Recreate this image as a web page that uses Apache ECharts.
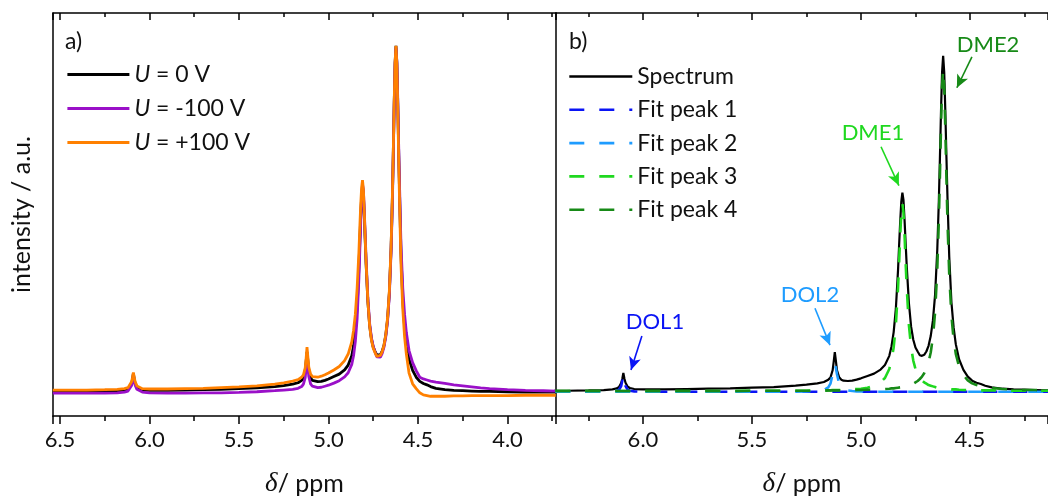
<!DOCTYPE html>
<html>
<head>
<meta charset="utf-8">
<script src="https://cdn.jsdelivr.net/npm/echarts@6/dist/echarts.min.js"></script>
<style>
  html, body { margin: 0; padding: 0; background: #fff; }
  #chart { width: 1048px; height: 498px; }
</style>
</head>
<body>
<div id="chart"></div>
<script>
// Chemical shift grid (ppm), shared by every trace below
const shifts = [
  6.54, 6.45, 6.35, 6.25, 6.18, 6.14, 6.12, 6.11, 6.10, 6.095,
  6.09, 6.085, 6.08, 6.07, 6.06, 6.04, 6.0, 5.9, 5.8, 5.7,
  5.6, 5.5, 5.4, 5.3, 5.25, 5.2, 5.17, 5.15, 5.14, 5.13,
  5.125, 5.12, 5.115, 5.11, 5.10, 5.09, 5.08, 5.06, 5.04, 5.02,
  5.0, 4.97, 4.94, 4.91, 4.89, 4.87, 4.86, 4.85, 4.84, 4.83,
  4.825, 4.82, 4.815, 4.81, 4.805, 4.80, 4.795, 4.79, 4.78, 4.77,
  4.76, 4.75, 4.74, 4.73, 4.72, 4.71, 4.70, 4.69, 4.68, 4.67,
  4.66, 4.65, 4.643, 4.638, 4.633, 4.628, 4.623, 4.618, 4.613, 4.608,
  4.603, 4.595, 4.585, 4.575, 4.565, 4.55, 4.53, 4.51, 4.49, 4.47,
  4.45, 4.43, 4.40, 4.35, 4.30, 4.25, 4.20, 4.15, 4.10, 4.0,
  3.9, 3.8, 3.73
];

// Spectrum at U = 0 V (also the fitted spectrum in panel b)
const u0V = [
  0.000, 0.000, 0.001, 0.002, 0.003, 0.005, 0.008, 0.012, 0.024, 0.036,
  0.054, 0.037, 0.025, 0.013, 0.009, 0.006, 0.005, 0.005, 0.006, 0.007,
  0.008, 0.010, 0.012, 0.016, 0.019, 0.023, 0.027, 0.034, 0.040, 0.062,
  0.088, 0.116, 0.090, 0.062, 0.041, 0.034, 0.031, 0.030, 0.031, 0.034,
  0.038, 0.045, 0.052, 0.064, 0.078, 0.105, 0.133, 0.176, 0.245, 0.360,
  0.435, 0.505, 0.565, 0.592, 0.570, 0.510, 0.440, 0.372, 0.262, 0.192,
  0.153, 0.130, 0.118, 0.107, 0.105, 0.108, 0.118, 0.135, 0.164, 0.210,
  0.287, 0.420, 0.562, 0.690, 0.830, 0.950, 1.000, 0.950, 0.835, 0.700,
  0.575, 0.400, 0.265, 0.190, 0.140, 0.095, 0.063, 0.043, 0.031, 0.025,
  0.021, 0.016, 0.011, 0.007, 0.005, 0.004, 0.003, 0.002, 0.002, 0.001,
  0.000, 0.000, 0.000
];

// Spectrum at U = -100 V
const uMinus100V = [
  -0.003, -0.003, -0.003, -0.003, -0.002, 0.000, 0.003, 0.007, 0.019, 0.031,
  0.048, 0.032, 0.020, 0.008, 0.003, 0.000, -0.002, -0.003, -0.003, -0.002,
  -0.002, -0.001, 0.001, 0.004, 0.006, 0.008, 0.011, 0.016, 0.023, 0.042,
  0.068, 0.100, 0.072, 0.045, 0.024, 0.017, 0.014, 0.013, 0.014, 0.017,
  0.020, 0.026, 0.033, 0.044, 0.056, 0.080, 0.105, 0.146, 0.212, 0.330,
  0.410, 0.490, 0.560, 0.600, 0.585, 0.525, 0.455, 0.385, 0.272, 0.198,
  0.157, 0.132, 0.116, 0.102, 0.098, 0.101, 0.112, 0.130, 0.160, 0.205,
  0.280, 0.410, 0.550, 0.680, 0.822, 0.945, 0.995, 0.955, 0.845, 0.715,
  0.595, 0.425, 0.300, 0.225, 0.172, 0.120, 0.085, 0.062, 0.043, 0.038,
  0.035, 0.032, 0.029, 0.025, 0.021, 0.018, 0.015, 0.012, 0.010, 0.007,
  0.005, 0.004, 0.003
];

// Spectrum at U = +100 V
const uPlus100V = [
  0.006, 0.006, 0.006, 0.007, 0.008, 0.010, 0.013, 0.017, 0.030, 0.042,
  0.057, 0.042, 0.030, 0.018, 0.013, 0.010, 0.009, 0.009, 0.010, 0.011,
  0.013, 0.015, 0.018, 0.023, 0.027, 0.032, 0.036, 0.043, 0.050, 0.070,
  0.097, 0.130, 0.100, 0.072, 0.052, 0.045, 0.043, 0.043, 0.046, 0.050,
  0.055, 0.064, 0.074, 0.091, 0.110, 0.145, 0.178, 0.225, 0.300, 0.405,
  0.475, 0.540, 0.590, 0.612, 0.585, 0.520, 0.445, 0.375, 0.262, 0.190,
  0.150, 0.127, 0.114, 0.103, 0.101, 0.106, 0.117, 0.135, 0.166, 0.214,
  0.292, 0.425, 0.568, 0.695, 0.835, 0.952, 1.000, 0.945, 0.820, 0.680,
  0.550, 0.370, 0.240, 0.160, 0.110, 0.055, 0.024, 0.010, -0.002, -0.008,
  -0.010, -0.012, -0.012, -0.012, -0.011, -0.011, -0.010, -0.010, -0.010, -0.010,
  -0.009, -0.009, -0.009
];

// Fitted components (DOL1, DOL2, DME1, DME2)
const fitPeak1 = [
  -0.002, -0.002, -0.002, -0.002, -0.001, 0.000, 0.001, 0.004, 0.015, 0.031,
  0.048, 0.031, 0.015, 0.004, 0.001, -0.001, -0.002, -0.002, -0.002, -0.002,
  -0.002, -0.002, -0.002, -0.002, -0.002, -0.002, -0.002, -0.002, -0.002, -0.002,
  -0.002, -0.002, -0.002, -0.002, -0.002, -0.002, -0.002, -0.002, -0.002, -0.002,
  -0.002, -0.002, -0.002, -0.002, -0.002, -0.002, -0.002, -0.002, -0.002, -0.002,
  -0.002, -0.002, -0.002, -0.002, -0.002, -0.002, -0.002, -0.002, -0.002, -0.002,
  -0.002, -0.002, -0.002, -0.002, -0.002, -0.002, -0.002, -0.002, -0.002, -0.002,
  -0.002, -0.002, -0.002, -0.002, -0.002, -0.002, -0.002, -0.002, -0.002, -0.002,
  -0.002, -0.002, -0.002, -0.002, -0.002, -0.002, -0.002, -0.002, -0.002, -0.002,
  -0.002, -0.002, -0.002, -0.002, -0.002, -0.002, -0.002, -0.002, -0.002, -0.002,
  -0.002, -0.002, -0.002
];

const fitPeak2 = [
  -0.002, -0.002, -0.002, -0.002, -0.002, -0.002, -0.002, -0.002, -0.002, -0.002,
  -0.002, -0.002, -0.002, -0.002, -0.002, -0.002, -0.002, -0.002, -0.002, -0.002,
  -0.002, -0.002, -0.002, -0.002, -0.001, 0.000, 0.003, 0.011, 0.022, 0.050,
  0.069, 0.080, 0.069, 0.050, 0.022, 0.011, 0.006, 0.002, 0.000, -0.001,
  -0.001, -0.002, -0.002, -0.002, -0.002, -0.002, -0.002, -0.002, -0.002, -0.002,
  -0.002, -0.002, -0.002, -0.002, -0.002, -0.002, -0.002, -0.002, -0.002, -0.002,
  -0.002, -0.002, -0.002, -0.002, -0.002, -0.002, -0.002, -0.002, -0.002, -0.002,
  -0.002, -0.002, -0.002, -0.002, -0.002, -0.002, -0.002, -0.002, -0.002, -0.002,
  -0.002, -0.002, -0.002, -0.002, -0.002, -0.002, -0.002, -0.002, -0.002, -0.002,
  -0.002, -0.002, -0.002, -0.002, -0.002, -0.002, -0.002, -0.002, -0.002, -0.002,
  -0.002, -0.002, -0.002
];

const fitPeak3 = [
  0.000, 0.000, 0.000, 0.000, 0.000, 0.000, 0.000, 0.000, 0.000, 0.000,
  0.000, 0.000, 0.000, 0.000, 0.000, 0.000, 0.000, 0.000, 0.000, 0.000,
  0.000, 0.001, 0.001, 0.001, 0.001, 0.002, 0.002, 0.002, 0.002, 0.003,
  0.003, 0.003, 0.003, 0.003, 0.003, 0.003, 0.004, 0.004, 0.005, 0.006,
  0.007, 0.010, 0.016, 0.026, 0.039, 0.066, 0.091, 0.130, 0.196, 0.307,
  0.382, 0.464, 0.532, 0.560, 0.532, 0.464, 0.382, 0.307, 0.196, 0.130,
  0.091, 0.066, 0.050, 0.039, 0.032, 0.026, 0.022, 0.018, 0.016, 0.014,
  0.012, 0.010, 0.010, 0.009, 0.009, 0.008, 0.008, 0.007, 0.007, 0.007,
  0.006, 0.006, 0.005, 0.005, 0.005, 0.004, 0.003, 0.003, 0.003, 0.002,
  0.002, 0.002, 0.002, 0.001, 0.001, 0.001, 0.001, 0.001, 0.000, 0.000,
  0.000, 0.000, 0.000
];

const fitPeak4 = [
  0.000, 0.000, 0.000, 0.000, 0.000, 0.000, 0.000, 0.000, 0.000, 0.000,
  0.000, 0.000, 0.000, 0.000, 0.000, 0.000, 0.000, 0.000, 0.000, 0.000,
  0.000, 0.001, 0.001, 0.001, 0.001, 0.001, 0.001, 0.002, 0.002, 0.002,
  0.002, 0.002, 0.002, 0.002, 0.002, 0.002, 0.002, 0.002, 0.002, 0.003,
  0.003, 0.004, 0.004, 0.005, 0.006, 0.007, 0.008, 0.008, 0.009, 0.010,
  0.010, 0.011, 0.011, 0.012, 0.013, 0.013, 0.014, 0.015, 0.017, 0.019,
  0.022, 0.026, 0.030, 0.036, 0.043, 0.053, 0.067, 0.086, 0.115, 0.160,
  0.234, 0.362, 0.503, 0.636, 0.782, 0.908, 0.960, 0.908, 0.782, 0.636,
  0.503, 0.346, 0.225, 0.154, 0.111, 0.073, 0.047, 0.032, 0.023, 0.018,
  0.014, 0.011, 0.009, 0.006, 0.004, 0.003, 0.003, 0.002, 0.002, 0.001,
  0.001, 0.001, 0.001
];

// Peak assignments in panel b: label position and arrow (start -> tip), in data units
const peakNotes = [
  { name: 'DOL1', label: [5.945, 0.205], from: [6.005, 0.164], to: [6.055, 0.063] },
  { name: 'DOL2', label: [5.234, 0.286], from: [5.211, 0.247], to: [5.142, 0.137] },
  { name: 'DME1', label: [4.945, 0.771], from: [4.908, 0.729], to: [4.826, 0.613] },
  { name: 'DME2', label: [4.417, 1.033], from: [4.491, 0.997], to: [4.560, 0.905] }
];

const FONT = 'Lato';
const INK = '#111';

function pairs(values) {
  return shifts.map((x, i) => [x, values[i]]);
}

function noteDecor(note, color) {
  return {
    markLine: {
      silent: true,
      animation: false,
      symbol: ['none', 'arrow'],
      symbolSize: [9, 13],
      lineStyle: { color: color, width: 1.6, type: 'solid' },
      label: { show: false },
      emphasis: { disabled: true },
      data: [[{ coord: note.from }, { coord: note.to }]]
    },
    markPoint: {
      silent: true,
      animation: false,
      symbol: 'circle',
      symbolSize: 1,
      itemStyle: { color: 'rgba(0,0,0,0)' },
      label: {
        show: true, position: 'inside', formatter: '{b}',
        color: color, fontSize: 22, fontFamily: FONT
      },
      data: [{ name: note.name, coord: note.label }]
    }
  };
}

function bottomAxis(gridIndex, min, max, splitNumber) {
  return {
    type: 'value', gridIndex: gridIndex, position: 'bottom', inverse: true,
    min: min, max: max, splitNumber: splitNumber,
    axisLine: { show: true, onZero: false, lineStyle: { color: '#000', width: 1.5 } },
    axisTick: { show: true, inside: false, length: 8, lineStyle: { color: '#000', width: 1.5 } },
    minorTick: { show: true, splitNumber: 2, length: 5, lineStyle: { color: '#000', width: 1.5 } },
    splitLine: { show: false }, minorSplitLine: { show: false },
    axisLabel: {
      show: true, margin: 13, color: INK, fontSize: 22, fontFamily: FONT,
      showMinLabel: false, showMaxLabel: false,
      formatter: (v) => v.toFixed(1)
    },
    name: '{d|δ}/ ppm', nameLocation: 'middle', nameGap: 54,
    nameTextStyle: {
      color: INK, fontSize: 25, fontFamily: FONT,
      rich: {
        d: { fontStyle: 'italic', fontFamily: 'Liberation Serif', fontSize: 27, color: INK }
      }
    }
  };
}

function topAxis(gridIndex, min, max, splitNumber) {
  return {
    type: 'value', gridIndex: gridIndex, position: 'top', inverse: true,
    min: min, max: max, splitNumber: splitNumber,
    axisLine: { show: true, onZero: false, lineStyle: { color: '#000', width: 1.5 } },
    axisTick: { show: true, inside: true, length: 7, lineStyle: { color: '#000', width: 1.5 } },
    minorTick: { show: true, splitNumber: 2, length: 4, lineStyle: { color: '#000', width: 1.5 } },
    splitLine: { show: false }, minorSplitLine: { show: false },
    axisLabel: { show: false }
  };
}

function frameYAxis(gridIndex, min, max, name) {
  return {
    type: 'value', gridIndex: gridIndex, position: 'left',
    min: min, max: max,
    axisLine: { show: true, onZero: false, lineStyle: { color: '#000', width: 1.5 } },
    axisTick: { show: false }, axisLabel: { show: false },
    splitLine: { show: false },
    name: name || '', nameLocation: 'middle', nameGap: 19,
    nameTextStyle: { color: INK, fontSize: 25, fontFamily: FONT }
  };
}

const lineBase = { type: 'line', showSymbol: false, symbol: 'none', animation: false, clip: true, silent: true };

const option = {
  animation: false,
  backgroundColor: '#ffffff',
  textStyle: { fontFamily: FONT },
  title: [
    { text: 'a)', left: 65, top: 30, padding: 0, textStyle: { fontSize: 23, fontWeight: 'normal', color: INK, fontFamily: FONT } },
    { text: 'b)', left: 569, top: 30, padding: 0, textStyle: { fontSize: 23, fontWeight: 'normal', color: INK, fontFamily: FONT } }
  ],
  grid: [
    { left: 53, right: 492, top: 13, bottom: 82, outerBoundsMode: 'none', containLabel: false },
    { left: 556, right: 0, top: 13, bottom: 82, outerBoundsMode: 'none', containLabel: false }
  ],
  xAxis: [
    bottomAxis(0, 3.729, 6.539, 6),
    topAxis(0, 3.729, 6.539, 6),
    bottomAxis(1, 4.142, 6.399, 5),
    topAxis(1, 4.142, 6.399, 5)
  ],
  yAxis: [
    frameYAxis(0, -0.069, 1.095, 'intensity / a.u.'),
    frameYAxis(1, -0.0744, 1.128)
  ],
  legend: [
    {
      data: ['U = 0 V', 'U = -100 V', 'U = +100 V'],
      orient: 'vertical', left: 66, top: 63, padding: 0,
      itemWidth: 62, itemHeight: 14, itemGap: 11,
      selectedMode: false,
      itemStyle: { color: 'rgba(0,0,0,0)', borderWidth: 0 },
      lineStyle: { width: 2.8 },
      formatter: (name) => '{i|U}' + name.slice(1),
      textStyle: {
        color: INK, fontSize: 23, fontFamily: FONT,
        rich: {
          i: { fontStyle: 'italic', fontSize: 23, fontFamily: FONT, color: INK }
        }
      }
    },
    {
      data: ['Spectrum', 'Fit peak 1', 'Fit peak 2', 'Fit peak 3', 'Fit peak 4'],
      orient: 'vertical', left: 568, top: 65, padding: 0,
      itemWidth: 63, itemHeight: 14, itemGap: 10.3,
      selectedMode: false,
      itemStyle: { color: 'rgba(0,0,0,0)', borderWidth: 0 },
      lineStyle: { width: 2.6 },
      textStyle: { color: INK, fontSize: 23, fontFamily: FONT }
    }
  ],
  series: [
    Object.assign({}, lineBase, {
      name: 'U = 0 V', xAxisIndex: 0, yAxisIndex: 0, data: pairs(u0V),
      color: '#000000', lineStyle: { color: '#000000', width: 2.8 }, z: 2
    }),
    Object.assign({}, lineBase, {
      name: 'U = -100 V', xAxisIndex: 0, yAxisIndex: 0, data: pairs(uMinus100V),
      color: '#9a10c8', lineStyle: { color: '#9a10c8', width: 2.8 }, z: 3
    }),
    Object.assign({}, lineBase, {
      name: 'U = +100 V', xAxisIndex: 0, yAxisIndex: 0, data: pairs(uPlus100V),
      color: '#ff8000', lineStyle: { color: '#ff8000', width: 2.8 }, z: 4
    }),
    Object.assign({}, lineBase, {
      name: 'Spectrum', xAxisIndex: 2, yAxisIndex: 1, data: pairs(u0V),
      color: '#000000', lineStyle: { color: '#000000', width: 2.2 }, z: 2
    }),
    Object.assign({}, lineBase, {
      name: 'Fit peak 1', xAxisIndex: 2, yAxisIndex: 1, data: pairs(fitPeak1),
      color: '#0a14f5', lineStyle: { color: '#0a14f5', width: 2.6, type: [15, 15] }, z: 3
    }, noteDecor(peakNotes[0], '#0a14f5')),
    Object.assign({}, lineBase, {
      name: 'Fit peak 2', xAxisIndex: 2, yAxisIndex: 1, data: pairs(fitPeak2),
      color: '#1e9cff', lineStyle: { color: '#1e9cff', width: 2.6, type: [15, 15] }, z: 4
    }, noteDecor(peakNotes[1], '#1e9cff')),
    Object.assign({}, lineBase, {
      name: 'Fit peak 3', xAxisIndex: 2, yAxisIndex: 1, data: pairs(fitPeak3),
      color: '#1fd81f', lineStyle: { color: '#1fd81f', width: 2.6, type: [15, 15] }, z: 5
    }, noteDecor(peakNotes[2], '#1fd81f')),
    Object.assign({}, lineBase, {
      name: 'Fit peak 4', xAxisIndex: 2, yAxisIndex: 1, data: pairs(fitPeak4),
      color: '#178a17', lineStyle: { color: '#178a17', width: 2.6, type: [15, 15] }, z: 6
    }, noteDecor(peakNotes[3], '#178a17'))
  ]
};

const chart = echarts.init(document.getElementById('chart'), null, { renderer: 'canvas' });
chart.setOption(option);
</script>
</body>
</html>
